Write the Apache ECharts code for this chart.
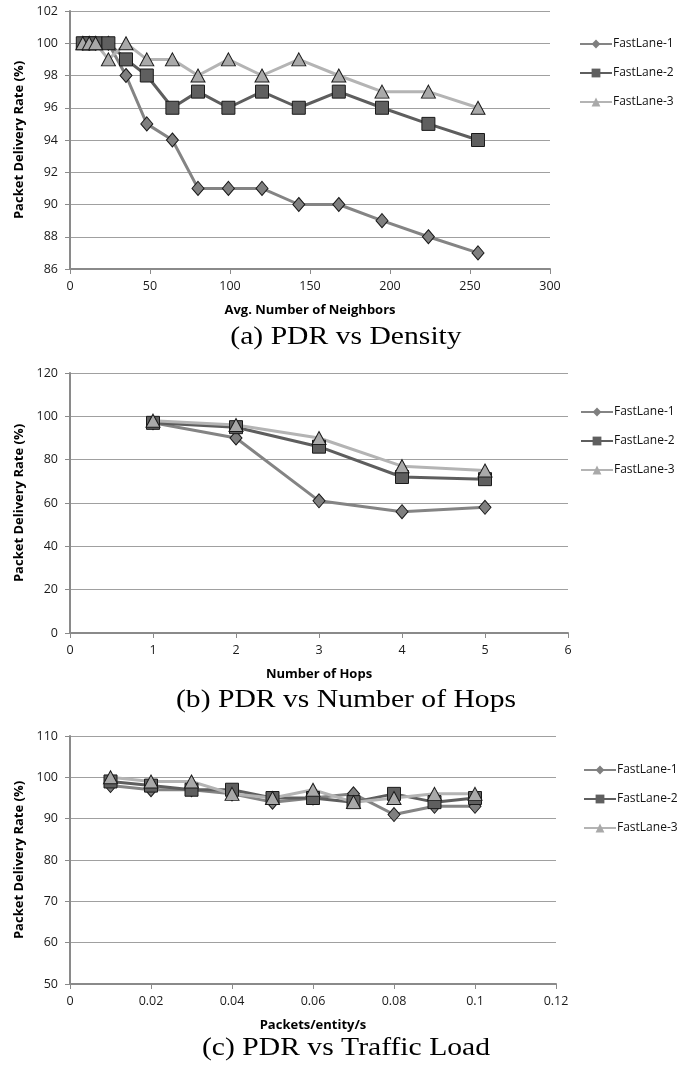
<!DOCTYPE html>
<html>
<head>
<meta charset="utf-8">
<script src="https://cdn.jsdelivr.net/npm/echarts@6/dist/echarts.min.js"></script>
<style>
html,body{margin:0;padding:0;background:#fff;}
#chart{width:686px;height:1065px;}
</style>
</head>
<body>
<div id="chart"></div>
<script>
// ---- data ----
const seriesNames = ['FastLane-1', 'FastLane-2', 'FastLane-3'];

const densityX = [8, 12, 16, 24, 35, 48, 64, 80, 99, 120, 143, 168, 195, 224, 255];
const densityFL1 = [100, 100, 100, 100, 98, 95, 94, 91, 91, 91, 90, 90, 89, 88, 87];
const densityFL2 = [100, 100, 100, 100, 99, 98, 96, 97, 96, 97, 96, 97, 96, 95, 94];
const densityFL3 = [100, 100, 100, 99, 100, 99, 99, 98, 99, 98, 99, 98, 97, 97, 96];

const hopsX = [1, 2, 3, 4, 5];
const hopsFL1 = [97, 90, 61, 56, 58];
const hopsFL2 = [97, 95, 86, 72, 71];
const hopsFL3 = [98, 96, 90, 77, 75];

const loadX = [0.01, 0.02, 0.03, 0.04, 0.05, 0.06, 0.07, 0.08, 0.09, 0.1];
const loadFL1 = [98, 97, 97, 96, 94, 95, 96, 91, 93, 93];
const loadFL2 = [99, 98, 97, 97, 95, 95, 94, 96, 94, 95];
const loadFL3 = [100, 99, 99, 96, 95, 97, 94, 95, 96, 96];

const captions = ['(a) PDR vs Density', '(b) PDR vs Number of Hops', '(c) PDR vs Traffic Load'];
const xNames = ['Avg. Number of Neighbors', 'Number of Hops', 'Packets/entity/s'];
const yName = 'Packet Delivery Rate (%)';

// ---- styling ----
const lineColors = ['#848484', '#5e5e5e', '#b4b4b4'];
const fillColors = ['#7f7f7f', '#5f5f5f', '#a9a9a9'];
const symbols = ['diamond', 'rect', 'triangle'];
const symbolSizes = [[12, 14], 13, [14, 13]];
const sansFont = '"Open Sans", "Liberation Sans", sans-serif';

const chart = echarts.init(document.getElementById('chart'), null, {renderer: 'canvas'});

const panels = [
  {x: densityX, ys: [densityFL1, densityFL2, densityFL3], grid: {left: 70, top: 11, width: 480, height: 258},
   xAxis: {min: 0, max: 300, interval: 50}, yAxis: {min: 86, max: 102, interval: 2}, legendTop: 38, legendLeft: 579, caption: 337},
  {x: hopsX, ys: [hopsFL1, hopsFL2, hopsFL3], grid: {left: 70, top: 373, width: 498, height: 260},
   xAxis: {min: 0, max: 6, interval: 1}, yAxis: {min: 0, max: 120, interval: 20}, legendTop: 406, legendLeft: 580, caption: 700},
  {x: loadX, ys: [loadFL1, loadFL2, loadFL3], grid: {left: 70, top: 736, width: 486, height: 248},
   xAxis: {min: 0, max: 0.12, interval: 0.02}, yAxis: {min: 50, max: 110, interval: 10}, legendTop: 764, legendLeft: 583, caption: 1048}
];

const grids = [], xAxes = [], yAxes = [], series = [], legends = [], graphics = [];

panels.forEach((p, i) => {
  grids.push(Object.assign({containLabel: false}, p.grid));
  xAxes.push(Object.assign({
    type: 'value', gridIndex: i,
    name: xNames[i], nameLocation: 'middle', nameGap: 35,
    nameTextStyle: {fontFamily: sansFont, fontWeight: 'bold', fontSize: 13, color: '#000'},
    axisLine: {show: true, lineStyle: {color: '#8a8a8a', width: 2}},
    axisTick: {show: true, length: 5, lineStyle: {color: '#8a8a8a', width: 1}},
    axisLabel: {fontFamily: sansFont, fontSize: 12.5, color: '#1a1a1a', margin: 11,
      formatter: v => String(+v.toFixed(2))},
    splitLine: {show: false}
  }, p.xAxis));
  yAxes.push(Object.assign({
    type: 'value', gridIndex: i,
    name: yName, nameLocation: 'middle', nameGap: 44,
    nameTextStyle: {fontFamily: sansFont, fontWeight: 'bold', fontSize: 13, color: '#000'},
    axisLine: {show: true, lineStyle: {color: '#8a8a8a', width: 2}},
    axisTick: {show: true, length: 5, lineStyle: {color: '#8a8a8a', width: 1}},
    axisLabel: {fontFamily: sansFont, fontSize: 12.5, color: '#1a1a1a', margin: 12},
    splitLine: {show: true, lineStyle: {color: '#a0a0a0', width: 1}}
  }, p.yAxis));
  p.ys.forEach((ys, k) => {
    series.push({
      type: 'line', id: seriesNames[k] + '#' + i, name: seriesNames[k],
      xAxisIndex: i, yAxisIndex: i,
      data: p.x.map((xv, j) => [xv, ys[j]]),
      symbol: symbols[k], symbolSize: symbolSizes[k],
      showAllSymbol: true,
      lineStyle: {color: lineColors[k], width: 3},
      itemStyle: {color: fillColors[k], borderColor: '#1a1a1a', borderWidth: 1},
      emphasis: {disabled: true},
      animation: false,
      legendHoverLink: false
    });
  });
  legends.push({
    top: p.legendTop, left: p.legendLeft, orient: 'vertical', padding: 0,
    itemWidth: 32, itemHeight: 11, itemGap: 17,
    textStyle: {fontFamily: sansFont, fontSize: 12, color: '#111', padding: [0, 0, 0, -4]},
    data: seriesNames.map((n, k) => ({name: n, itemStyle: {borderWidth: 0, color: fillColors[k]}})),
    selectedMode: false
  });
  graphics.push({
    type: 'text', x: 346, y: p.caption, scaleX: 1.14,
    style: {text: captions[i], x: 0, y: 0, align: 'center', verticalAlign: 'middle',
      font: '26px "Liberation Serif", serif', fill: '#000'}
  });
});

chart.setOption({
  animation: false,
  backgroundColor: '#fff',
  grid: grids,
  xAxis: xAxes,
  yAxis: yAxes,
  legend: legends,
  series: series,
  graphic: graphics
});
</script>
</body>
</html>
